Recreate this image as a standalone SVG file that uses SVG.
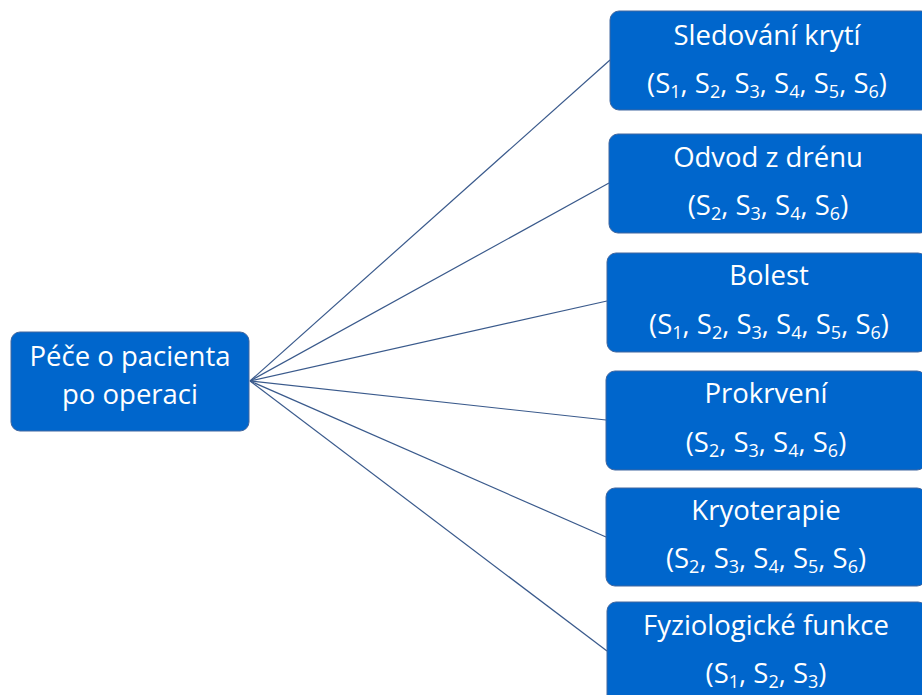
<svg xmlns="http://www.w3.org/2000/svg" width="922" height="695" viewBox="0 0 922 695">
  <style>
    .box { fill: #0066CC; stroke: #41669F; stroke-width: 1; }
    .lbl { font-family: "Open Sans", "Liberation Sans", sans-serif; font-size: 27.5px; fill: #FFFFFF; text-anchor: middle; }
    .sub { font-size: 18px; }
    .link { stroke: #3A5A8C; stroke-width: 1.2; fill: none; }
  </style>
  <rect width="922" height="695" fill="#FFFFFF"/>

  <g id="connectors">
    <line class="link" x1="250" y1="381" x2="610" y2="60"/>
    <line class="link" x1="250" y1="381" x2="609" y2="183"/>
    <line class="link" x1="250" y1="381" x2="607" y2="301"/>
    <line class="link" x1="250" y1="381" x2="606" y2="420"/>
    <line class="link" x1="250" y1="381" x2="606" y2="537"/>
    <line class="link" x1="250" y1="381" x2="607" y2="651"/>
  </g>

  <g id="root">
    <rect class="box" x="11" y="332" width="238" height="99" rx="9"/>
    <text class="lbl" x="130" y="366">Péče o pacienta</text>
    <text class="lbl" x="130" y="404">po operaci</text>
  </g>

  <g id="sledovani">
    <rect class="box" x="610" y="11" width="320" height="99" rx="9"/>
    <text class="lbl" x="767" y="45">Sledování krytí</text>
    <text class="lbl" x="767" y="93">(S<tspan class="sub" dy="5">1</tspan><tspan dy="-5">, S</tspan><tspan class="sub" dy="5">2</tspan><tspan dy="-5">, S</tspan><tspan class="sub" dy="5">3</tspan><tspan dy="-5">, S</tspan><tspan class="sub" dy="5">4</tspan><tspan dy="-5">, S</tspan><tspan class="sub" dy="5">5</tspan><tspan dy="-5">, S</tspan><tspan class="sub" dy="5">6</tspan><tspan dy="-5">)</tspan></text>
  </g>

  <g id="odvod">
    <rect class="box" x="609" y="134" width="320" height="99" rx="9"/>
    <text class="lbl" x="768" y="167">Odvod z drénu</text>
    <text class="lbl" x="768" y="215">(S<tspan class="sub" dy="5">2</tspan><tspan dy="-5">, S</tspan><tspan class="sub" dy="5">3</tspan><tspan dy="-5">, S</tspan><tspan class="sub" dy="5">4</tspan><tspan dy="-5">, S</tspan><tspan class="sub" dy="5">6</tspan><tspan dy="-5">)</tspan></text>
  </g>

  <g id="bolest">
    <rect class="box" x="607" y="253" width="320" height="99" rx="9"/>
    <text class="lbl" x="769" y="285">Bolest</text>
    <text class="lbl" x="769" y="334">(S<tspan class="sub" dy="5">1</tspan><tspan dy="-5">, S</tspan><tspan class="sub" dy="5">2</tspan><tspan dy="-5">, S</tspan><tspan class="sub" dy="5">3</tspan><tspan dy="-5">, S</tspan><tspan class="sub" dy="5">4</tspan><tspan dy="-5">, S</tspan><tspan class="sub" dy="5">5</tspan><tspan dy="-5">, S</tspan><tspan class="sub" dy="5">6</tspan><tspan dy="-5">)</tspan></text>
  </g>

  <g id="prokrveni">
    <rect class="box" x="606" y="371" width="320" height="99" rx="9"/>
    <text class="lbl" x="766" y="403">Prokrvení</text>
    <text class="lbl" x="766" y="452">(S<tspan class="sub" dy="5">2</tspan><tspan dy="-5">, S</tspan><tspan class="sub" dy="5">3</tspan><tspan dy="-5">, S</tspan><tspan class="sub" dy="5">4</tspan><tspan dy="-5">, S</tspan><tspan class="sub" dy="5">6</tspan><tspan dy="-5">)</tspan></text>
  </g>

  <g id="kryoterapie">
    <rect class="box" x="606" y="488" width="320" height="98" rx="9"/>
    <text class="lbl" x="766" y="520">Kryoterapie</text>
    <text class="lbl" x="766" y="568">(S<tspan class="sub" dy="5">2</tspan><tspan dy="-5">, S</tspan><tspan class="sub" dy="5">3</tspan><tspan dy="-5">, S</tspan><tspan class="sub" dy="5">4</tspan><tspan dy="-5">, S</tspan><tspan class="sub" dy="5">5</tspan><tspan dy="-5">, S</tspan><tspan class="sub" dy="5">6</tspan><tspan dy="-5">)</tspan></text>
  </g>

  <g id="fyziologicke">
    <rect class="box" x="607" y="602" width="320" height="110" rx="9"/>
    <text class="lbl" x="766" y="635">Fyziologické funkce</text>
    <text class="lbl" x="766" y="683">(S<tspan class="sub" dy="5">1</tspan><tspan dy="-5">, S</tspan><tspan class="sub" dy="5">2</tspan><tspan dy="-5">, S</tspan><tspan class="sub" dy="5">3</tspan><tspan dy="-5">)</tspan></text>
  </g>
</svg>
